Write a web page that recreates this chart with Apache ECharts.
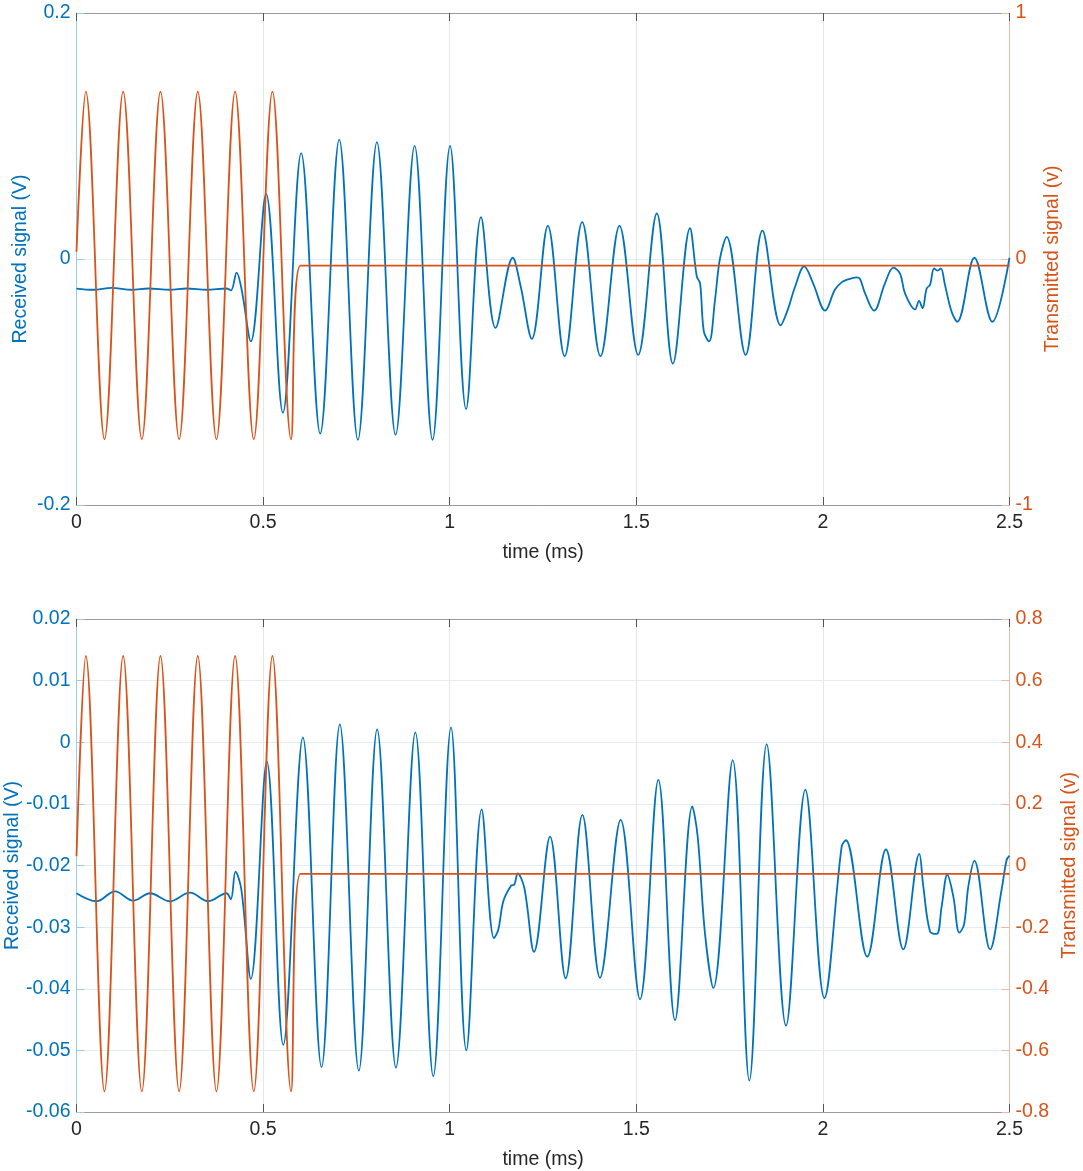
<!DOCTYPE html>
<html>
<head>
<meta charset="utf-8">
<title>Received and transmitted signal</title>
<script src="https://cdn.jsdelivr.net/npm/echarts@6.0.0/dist/echarts.min.js"></script>
<style>
  html, body { margin: 0; padding: 0; background: #fff; }
  #main { width: 1083px; height: 1171px; }
</style>
</head>
<body>
<div id="main"></div>
<script>
// time axis (ms)
const timeRange = [0, 2.5, 0.5];
// left / right axis ranges [min, max, step]
const topLeftRange = [-0.2, 0.2, 0.2];
const topRightRange = [-1, 1, 1];
const bottomLeftRange = [-0.06, 0.02, 0.01];
const bottomRightRange = [-0.8, 0.8, 0.2];

// transmitted burst (same in both panels): [time ms, value]
const transmitted = [
  [0, 0.03],
  [0.025, 0.68], [0.075, -0.733], [0.125, 0.68], [0.175, -0.733],
  [0.225, 0.68], [0.275, -0.733], [0.325, 0.68], [0.375, -0.733],
  [0.425, 0.68], [0.475, -0.733], [0.525, 0.68], [0.575, -0.733],
  [0.6, -0.027], [2.5, -0.027]
];

// received signal, upper panel
const receivedTop = [
  [0, -0.024], [0.045, -0.025], [0.094, -0.0235], [0.148, -0.025], [0.193, -0.024],
  [0.25, -0.025], [0.295, -0.024], [0.349, -0.025], [0.402, -0.024], [0.414, -0.0255],
  [0.429, -0.011], [0.4426, -0.025], [0.467, -0.067], [0.508, 0.053], [0.553, -0.125],
  [0.602, 0.086], [0.653, -0.142], [0.704, 0.097], [0.754, -0.147], [0.805, 0.095],
  [0.855, -0.143], [0.906, 0.092], [0.954, -0.147], [1.001, 0.092], [1.044, -0.122],
  [1.084, 0.034], [1.123, -0.056], [1.169, 0.001], [1.19, -0.022], [1.22, -0.065],
  [1.263, 0.027], [1.308, -0.079], [1.355, 0.03], [1.404, -0.079], [1.455, 0.027],
  [1.505, -0.078], [1.555, 0.037], [1.598, -0.085], [1.644, 0.025], [1.662, -0.014],
  [1.671, -0.02], [1.681, -0.059], [1.695, -0.067], [1.711, -0.033], [1.724, 0.0],
  [1.742, 0.018], [1.793, -0.078], [1.838, 0.023], [1.887, -0.054], [1.905, -0.042],
  [1.925, -0.023], [1.95, -0.006], [1.974, -0.02], [2.006, -0.042], [2.032, -0.025],
  [2.05, -0.019], [2.068, -0.0165], [2.09, -0.015], [2.099, -0.016], [2.113, -0.028],
  [2.137, -0.042], [2.166, -0.02], [2.189, -0.007], [2.207, -0.012], [2.22, -0.028],
  [2.247, -0.041], [2.2575, -0.034], [2.267, -0.04], [2.278, -0.024], [2.287, -0.021],
  [2.298, -0.0076], [2.307, -0.0095], [2.316, -0.0076], [2.327, -0.021], [2.345, -0.043],
  [2.36, -0.051], [2.406, 0.001], [2.454, -0.051], [2.5, 0.001]
];

// received signal, lower panel
const receivedBottom = [
  [0, -0.0245], [0.054, -0.0258], [0.103, -0.0242], [0.152, -0.0257], [0.197, -0.0245],
  [0.25, -0.0258], [0.304, -0.0244], [0.353, -0.0258], [0.402, -0.0245], [0.4135, -0.0255],
  [0.426, -0.021], [0.442, -0.024], [0.467, -0.0384], [0.51, -0.0031], [0.554, -0.0491],
  [0.6065, 0.0008], [0.6565, -0.0527], [0.7056, 0.0029], [0.7565, -0.0533], [0.8056, 0.0021],
  [0.856, -0.0528], [0.908, 0.0016], [0.956, -0.0542], [1.0035, 0.0024], [1.0446, -0.05],
  [1.0857, -0.0109], [1.1187, -0.0318], [1.1303, -0.0304], [1.1437, -0.0258], [1.1643, -0.0233],
  [1.1732, -0.0231], [1.1822, -0.0213], [1.2001, -0.0237], [1.2259, -0.034], [1.2688, -0.0153],
  [1.3108, -0.0383], [1.3555, -0.0118], [1.4028, -0.0382], [1.4581, -0.0126], [1.5099, -0.0417],
  [1.5591, -0.0061], [1.6038, -0.0451], [1.6502, -0.0104], [1.6645, -0.0153], [1.684, -0.031],
  [1.7064, -0.0399], [1.7582, -0.0029], [1.8029, -0.0549], [1.8494, -0.0003], [1.9012, -0.046],
  [1.953, -0.0077], [2.004, -0.0415], [2.0503, -0.0169], [2.0617, -0.0159], [2.1188, -0.0348],
  [2.1689, -0.0174], [2.2154, -0.0336], [2.2583, -0.0181], [2.269, -0.0234], [2.287, -0.0307],
  [2.305, -0.0311], [2.3183, -0.0266], [2.3334, -0.0215], [2.3494, -0.025], [2.3657, -0.0309],
  [2.3781, -0.0296], [2.3897, -0.0234], [2.4059, -0.0192], [2.448, -0.0336], [2.4789, -0.0239],
  [2.4923, -0.0191], [2.5, -0.0184]
];

const FONT = 'Liberation Sans, Arial, Helvetica, sans-serif';
const BLUE = '#0072BD';
const ORANGE = '#D95319';

// bottom time axis with labels, or plain top border
function timeAxis(grid, top) {
  return {
    type: 'value', gridIndex: grid, position: top ? 'top' : 'bottom',
    min: timeRange[0], max: timeRange[1], interval: timeRange[2],
    name: top ? '' : 'time (ms)', nameLocation: 'middle', nameGap: 38,
    nameMoveOverlap: false,
    nameTextStyle: { color: '#262626', fontSize: 19.5, fontFamily: FONT },
    axisLine: { show: true, onZero: false, lineStyle: { color: '#9a9a9a', width: 1 } },
    axisTick: { show: true, inside: true, length: 8, lineStyle: { color: '#555' } },
    axisLabel: { show: !top, color: '#262626', fontSize: 19.5, fontFamily: FONT, margin: 8 },
    splitLine: { show: !top, lineStyle: { color: '#e6e6e6', width: 1 } }
  };
}

function valueAxis(grid, side, range, name, color, lineColor, gap) {
  return {
    type: 'value', gridIndex: grid, position: side,
    min: range[0], max: range[1], interval: range[2],
    name: name, nameLocation: 'middle', nameGap: gap, nameRotate: 90,
    nameMoveOverlap: false,
    nameTextStyle: { color: color, fontSize: 19.5, fontFamily: FONT },
    axisLine: { show: true, onZero: false, lineStyle: { color: lineColor, width: 1 } },
    axisTick: { show: true, inside: true, length: 8, lineStyle: { color: lineColor } },
    axisLabel: { color: color, fontSize: 19.5, fontFamily: FONT, margin: 6 },
    splitLine: { show: side === 'left', lineStyle: { color: '#e3edf6', width: 1 } }
  };
}

function line(data, x, y, color, z) {
  return {
    type: 'line', data: data, xAxisIndex: x, yAxisIndex: y,
    smooth: 0.36, showSymbol: false, symbol: 'none', z: z,
    lineStyle: { color: color, width: 1.8 }, itemStyle: { color: color }
  };
}

const myChart = echarts.init(document.getElementById('main'));

const option = {
  animation: false,
  backgroundColor: '#fff',
  grid: [
    { left: 76.5, top: 13, width: 933, height: 492, containLabel: false, outerBoundsMode: 'none' },
    { left: 76.5, top: 619, width: 933, height: 493, containLabel: false, outerBoundsMode: 'none' }
  ],
  xAxis: [
    timeAxis(0, false), timeAxis(0, true),
    timeAxis(1, false), timeAxis(1, true)
  ],
  yAxis: [
    valueAxis(0, 'left', topLeftRange, 'Received signal (V)', BLUE, '#9fcbea', 46),
    valueAxis(0, 'right', topRightRange, 'Transmitted signal (v)', ORANGE, '#f2b9a2', 33),
    valueAxis(1, 'left', bottomLeftRange, 'Received signal (V)', BLUE, '#9fcbea', 54),
    valueAxis(1, 'right', bottomRightRange, 'Transmitted signal (v)', ORANGE, '#f2b9a2', 50)
  ],
  series: [
    line(receivedTop, 0, 0, BLUE, 2),
    line(transmitted, 0, 1, ORANGE, 3),
    line(receivedBottom, 2, 2, BLUE, 2),
    line(transmitted, 2, 3, ORANGE, 3)
  ]
};

myChart.setOption(option);
</script>
</body>
</html>
